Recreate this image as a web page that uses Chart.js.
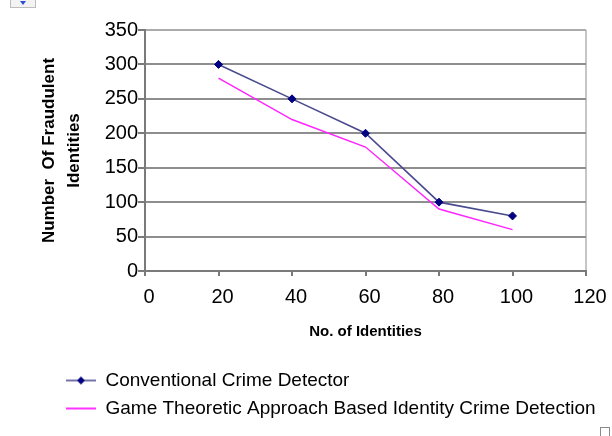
<!DOCTYPE html>
<html>
<head>
<meta charset="utf-8">
<script src="https://cdn.jsdelivr.net/npm/chart.js@4.4.1/dist/chart.umd.min.js"></script>
<style>
  html, body { margin: 0; padding: 0; background: #ffffff; }
  #wrap { position: relative; width: 612px; height: 436px; }
  .handle { position: absolute; left: 10px; top: -1px; width: 24px; height: 8px;
            border: 1px solid #bdbdbd; border-top: none; background: #f3f3f3; }
  .handle:after { content: ''; position: absolute; left: 9px; top: 2px;
            border-left: 3px solid transparent; border-right: 3px solid transparent;
            border-top: 4px solid #2a4fd0; }
  .corner { position: absolute; left: 600px; top: 427px; width: 8px; height: 8px;
            border: 1px solid #8a8a8a; background: #ffffff; }
</style>
</head>
<body>
<div id="wrap">
  <canvas id="chart"></canvas>
  <div class="handle"></div>
  <div class="corner"></div>
</div>
<script>
// Number of identities examined (x) and fraudulent identities found (y)
const identities    = [20, 40, 60, 80, 100];
const conventional  = [300, 250, 200, 100, 80];
const gameTheoretic = [280, 220, 180, 90, 60];

// Axis tick values
const xTickValues = [0, 20, 40, 60, 80, 100, 120];
const yTickValues = [0, 50, 100, 150, 200, 250, 300, 350];

const seriesNames = [
  'Conventional Crime Detector',
  'Game Theoretic Approach Based Identity Crime Detection'
];

const FONT = "'Liberation Sans', Arial, sans-serif";

// Small line samples used as legend symbols
function legendIcon(lineColor, markerColor) {
  const c = document.createElement('canvas');
  c.width = 30; c.height = 10;
  const g = c.getContext('2d');
  g.strokeStyle = lineColor; g.lineWidth = 2;
  g.beginPath(); g.moveTo(0, 5); g.lineTo(30, 5); g.stroke();
  if (markerColor) {
    g.fillStyle = markerColor;
    g.beginPath(); g.moveTo(15, 1); g.lineTo(19, 5); g.lineTo(15, 9); g.lineTo(11, 5);
    g.closePath(); g.fill();
  }
  return c;
}
const legendIcons = [legendIcon('#7474aa', '#000080'), legendIcon('#ff33ff', null)];

const toPoints = (xs, ys) => xs.map((x, i) => ({ x: x, y: ys[i] }));

new Chart(document.getElementById('chart'), {
  type: 'line',
  data: {
    datasets: [
      {
        label: seriesNames[0],
        data: toPoints(identities, conventional),
        borderColor: '#4a4a8e',
        borderWidth: 1.6,
        pointStyle: 'rectRot',
        pointRadius: 4,
        pointBackgroundColor: '#000080',
        pointBorderColor: '#000080',
        pointBorderWidth: 1,
        tension: 0
      },
      {
        label: seriesNames[1],
        data: toPoints(identities, gameTheoretic),
        borderColor: '#ff22ff',
        borderWidth: 1.4,
        pointRadius: 0,
        tension: 0
      }
    ]
  },
  options: {
    responsive: true,
    maintainAspectRatio: false,
    animation: false,
    layout: { padding: { left: 57, right: 0, top: 30, bottom: 8 } },
    plugins: {
      tooltip: { enabled: false },
      legend: {
        position: 'bottom',
        align: 'start',
        labels: {
          usePointStyle: true,
          pointStyleWidth: 30,
          padding: 9,
          color: '#000000',
          font: { family: FONT, size: 19 },
          generateLabels(chart) {
            const items = Chart.defaults.plugins.legend.labels.generateLabels(chart);
            items.forEach((it, i) => { it.pointStyle = legendIcons[i]; });
            return items;
          }
        }
      }
    },
    scales: {
      x: {
        type: 'linear',
        min: xTickValues[0],
        max: xTickValues[xTickValues.length - 1],
        afterBuildTicks(scale) { scale.ticks = xTickValues.map(v => ({ value: v })); },
        afterFit(scale) { scale.height = 91; scale.paddingRight = 26; },
        border: { color: '#7a7a7a', width: 2 },
        grid: {
          drawOnChartArea: true,
          tickLength: 5,
          lineWidth: 2,
          tickColor: '#7a7a7a',
          color: ctx => (ctx.tick && ctx.tick.value === xTickValues[xTickValues.length - 1]) ? '#c6c6c6' : 'rgba(0,0,0,0)'
        },
        ticks: {
          padding: 9,
          labelOffset: 4,
          color: '#000000',
          font: { family: FONT, size: 20 }
        },
        title: {
          display: true,
          text: 'No. of Identities',
          color: '#000000',
          font: { family: FONT, size: 15, weight: 'bold' },
          padding: { top: 0, bottom: 21 }
        }
      },
      y: {
        min: yTickValues[0],
        max: yTickValues[yTickValues.length - 1],
        afterBuildTicks(scale) { scale.ticks = yTickValues.map(v => ({ value: v })); },
        afterFit(scale) { scale.width = 88; },
        border: { color: '#7a7a7a', width: 2 },
        grid: {
          tickLength: 7,
          lineWidth: 2,
          tickColor: '#7a7a7a',
          color: ctx => (ctx.tick && ctx.tick.value === yTickValues[yTickValues.length - 1]) ? '#ababab' : '#8e8e8e'
        },
        ticks: {
          padding: 0,
          color: '#000000',
          font: { family: FONT, size: 20 }
        },
        title: {
          display: true,
          text: ['Number  Of Fraudulent', 'Identities'],
          color: '#000000',
          font: { family: FONT, size: 17, weight: 'bold', lineHeight: '25px' },
          padding: { top: -20, bottom: 0 }
        }
      }
    }
  }
});
</script>
</body>
</html>
